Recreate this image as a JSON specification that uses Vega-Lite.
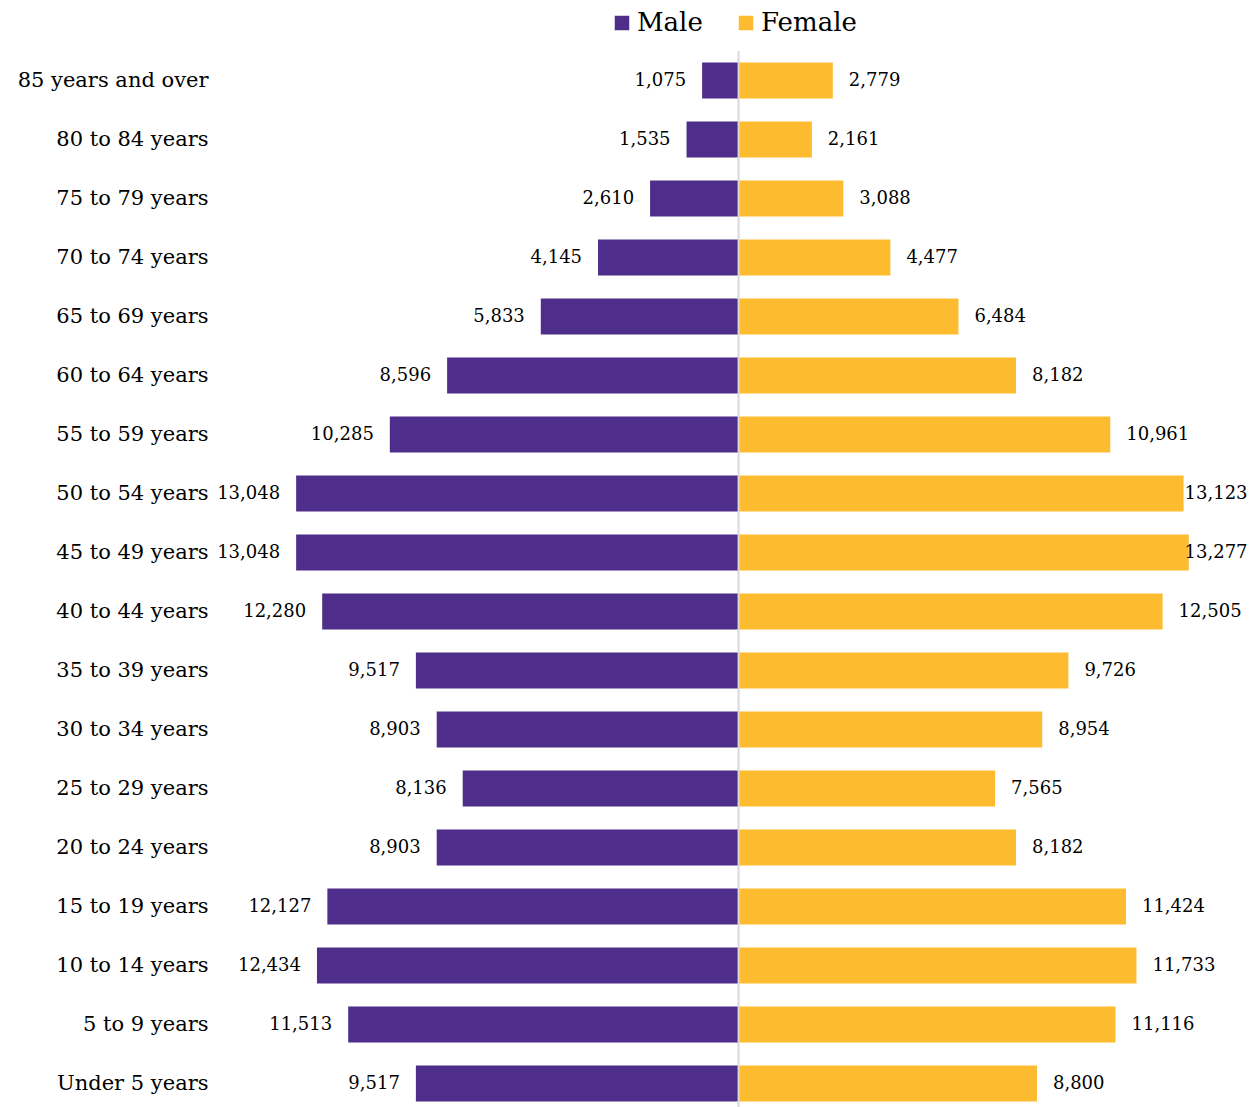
{
  "$schema": "https://vega.github.io/schema/vega-lite/v6.json",
  "width": 1041,
  "height": 1062,
  "autosize": {"type": "none"},
  "padding": {"left": 213, "top": 51, "right": 2, "bottom": 0},
  "background": "white",
  "config": {
    "view": {"stroke": null},
    "font": "DejaVu Serif",
    "text": {"font": "DejaVu Serif"}
  },
  "datasets": {
    "pop": [
      {"age": "85 years and over", "sex": "Male", "population": 1075},
      {"age": "80 to 84 years", "sex": "Male", "population": 1535},
      {"age": "75 to 79 years", "sex": "Male", "population": 2610},
      {"age": "70 to 74 years", "sex": "Male", "population": 4145},
      {"age": "65 to 69 years", "sex": "Male", "population": 5833},
      {"age": "60 to 64 years", "sex": "Male", "population": 8596},
      {"age": "55 to 59 years", "sex": "Male", "population": 10285},
      {"age": "50 to 54 years", "sex": "Male", "population": 13048},
      {"age": "45 to 49 years", "sex": "Male", "population": 13048},
      {"age": "40 to 44 years", "sex": "Male", "population": 12280},
      {"age": "35 to 39 years", "sex": "Male", "population": 9517},
      {"age": "30 to 34 years", "sex": "Male", "population": 8903},
      {"age": "25 to 29 years", "sex": "Male", "population": 8136},
      {"age": "20 to 24 years", "sex": "Male", "population": 8903},
      {"age": "15 to 19 years", "sex": "Male", "population": 12127},
      {"age": "10 to 14 years", "sex": "Male", "population": 12434},
      {"age": "5 to 9 years", "sex": "Male", "population": 11513},
      {"age": "Under 5 years", "sex": "Male", "population": 9517},
      {"age": "85 years and over", "sex": "Female", "population": 2779},
      {"age": "80 to 84 years", "sex": "Female", "population": 2161},
      {"age": "75 to 79 years", "sex": "Female", "population": 3088},
      {"age": "70 to 74 years", "sex": "Female", "population": 4477},
      {"age": "65 to 69 years", "sex": "Female", "population": 6484},
      {"age": "60 to 64 years", "sex": "Female", "population": 8182},
      {"age": "55 to 59 years", "sex": "Female", "population": 10961},
      {"age": "50 to 54 years", "sex": "Female", "population": 13123},
      {"age": "45 to 49 years", "sex": "Female", "population": 13277},
      {"age": "40 to 44 years", "sex": "Female", "population": 12505},
      {"age": "35 to 39 years", "sex": "Female", "population": 9726},
      {"age": "30 to 34 years", "sex": "Female", "population": 8954},
      {"age": "25 to 29 years", "sex": "Female", "population": 7565},
      {"age": "20 to 24 years", "sex": "Female", "population": 8182},
      {"age": "15 to 19 years", "sex": "Female", "population": 11424},
      {"age": "10 to 14 years", "sex": "Female", "population": 11733},
      {"age": "5 to 9 years", "sex": "Female", "population": 11116},
      {"age": "Under 5 years", "sex": "Female", "population": 8800}
    ]
  },
  "layer": [
    {
      "data": {"name": "pop"},
      "transform": [
        {"calculate": "datum.sex === 'Male' ? -datum.population : datum.population", "as": "signed"}
      ],
      "mark": {"type": "bar"},
      "encoding": {
        "y": {
          "field": "age", "type": "nominal",
          "sort": ["85 years and over", "80 to 84 years", "75 to 79 years", "70 to 74 years", "65 to 69 years", "60 to 64 years", "55 to 59 years", "50 to 54 years", "45 to 49 years", "40 to 44 years", "35 to 39 years", "30 to 34 years", "25 to 29 years", "20 to 24 years", "15 to 19 years", "10 to 14 years", "5 to 9 years", "Under 5 years"],
          "scale": {"paddingInner": 0.39, "paddingOuter": 0.195},
          "axis": {"title": null, "domain": false, "ticks": false, "labelPadding": 5, "labelLimit": 0, "labelFontSize": 21, "labelColor": "#000000", "labelFont": "DejaVu Serif"}
        },
        "x": {
          "field": "signed", "type": "quantitative",
          "scale": {"domain": [-15500, 15200], "nice": false},
          "axis": null
        },
        "color": {
          "field": "sex", "type": "nominal",
          "scale": {"domain": ["Male", "Female"], "range": ["#4E2E8A", "#FDBB30"]},
          "legend": {
            "orient": "none", "legendX": 396, "legendY": -41,
            "direction": "horizontal", "title": null,
            "symbolType": "square", "symbolSize": 210, "symbolStrokeWidth": 0,
            "labelFontSize": 26, "labelFont": "DejaVu Serif", "labelColor": "#000000",
            "labelOffset": 2, "columnPadding": 30
          }
        }
      }
    },
    {
      "data": {"values": [{}]},
      "mark": {"type": "rule", "color": "#d9d9d9", "strokeWidth": 2},
      "encoding": {"x": {"datum": 0}}
    },
    {
      "data": {"name": "pop"},
      "transform": [
        {"filter": "datum.sex === 'Male'"},
        {"calculate": "-datum.population", "as": "signed"}
      ],
      "mark": {"type": "text", "align": "right", "baseline": "middle", "dx": -16, "fontSize": 18, "color": "#000000"},
      "encoding": {
        "y": {"field": "age", "type": "nominal", "sort": ["85 years and over", "80 to 84 years", "75 to 79 years", "70 to 74 years", "65 to 69 years", "60 to 64 years", "55 to 59 years", "50 to 54 years", "45 to 49 years", "40 to 44 years", "35 to 39 years", "30 to 34 years", "25 to 29 years", "20 to 24 years", "15 to 19 years", "10 to 14 years", "5 to 9 years", "Under 5 years"]},
        "x": {"field": "signed", "type": "quantitative"},
        "text": {"field": "population", "type": "quantitative", "format": ","}
      }
    },
    {
      "data": {"name": "pop"},
      "transform": [
        {"filter": "datum.sex === 'Female'"},
        {"calculate": "min(datum.population, 12680)", "as": "labelAt"}
      ],
      "mark": {"type": "text", "align": "left", "baseline": "middle", "dx": 16, "fontSize": 18, "color": "#000000"},
      "encoding": {
        "y": {"field": "age", "type": "nominal", "sort": ["85 years and over", "80 to 84 years", "75 to 79 years", "70 to 74 years", "65 to 69 years", "60 to 64 years", "55 to 59 years", "50 to 54 years", "45 to 49 years", "40 to 44 years", "35 to 39 years", "30 to 34 years", "25 to 29 years", "20 to 24 years", "15 to 19 years", "10 to 14 years", "5 to 9 years", "Under 5 years"]},
        "x": {"field": "labelAt", "type": "quantitative"},
        "text": {"field": "population", "type": "quantitative", "format": ","}
      }
    }
  ]
}
